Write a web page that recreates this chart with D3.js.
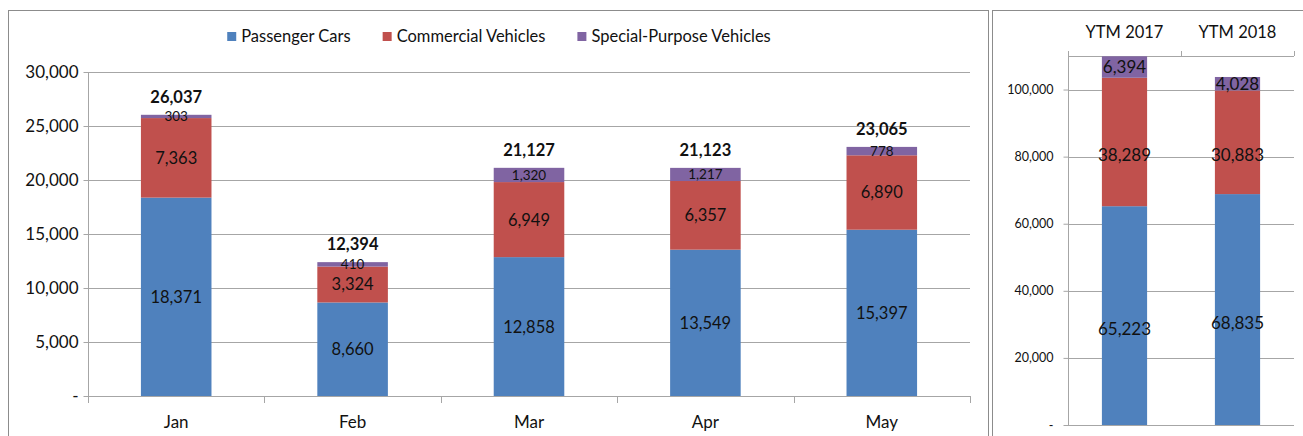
<!DOCTYPE html>
<html>
<head>
<meta charset="utf-8">
<script src="https://cdn.jsdelivr.net/npm/d3@7"></script>
<style>
  body { margin: 0; background: #fff; }
  text { font-family: Lato, "Open Sans", sans-serif; fill: #111; }
</style>
</head>
<body>
<script>
// chart data
var months = ["Jan", "Feb", "Mar", "Apr", "May"];
var passenger = [18371, 8660, 12858, 13549, 15397];
var commercial = [7363, 3324, 6949, 6357, 6890];
var special = [303, 410, 1320, 1217, 778];
var totals = [26037, 12394, 21127, 21123, 23065];

var ytmYears = ["YTM 2017", "YTM 2018"];
var ytmPassenger = [65223, 68835];
var ytmCommercial = [38289, 30883];
var ytmSpecial = [6394, 4028];

var seriesNames = ["Passenger Cars", "Commercial Vehicles", "Special-Purpose Vehicles"];
var colors = ["#4f81bd", "#c0504d", "#8064a2"];

var monthTicks = [0, 5000, 10000, 15000, 20000, 25000, 30000];
var ytmTicks = [0, 20000, 40000, 60000, 80000, 100000];

var W = 1303, H = 436;
var fmt = d3.format(",");
var tickFmt = function(d) { return d === 0 ? "-" : fmt(d); };
var gridColor = "#a6a6a6";

var svg = d3.select("body").append("svg")
    .attr("width", W)
    .attr("height", H);

// panel frames
svg.append("rect").attr("x", 8.5).attr("y", 10.5).attr("width", 980).attr("height", 440)
    .attr("fill", "none").attr("stroke", "#8c8c8c");
svg.append("rect").attr("x", 992.5).attr("y", 10.5).attr("width", 330).attr("height", 440)
    .attr("fill", "none").attr("stroke", "#8c8c8c");

function buildRows(cats, a, b, c) {
  return cats.map(function(k, i) { return {cat: k, s0: a[i], s1: b[i], s2: c[i]}; });
}
var stack = d3.stack().keys(["s0", "s1", "s2"]);

// ---------- monthly panel ----------
var x = d3.scaleBand().domain(months).range([88, 970]).paddingInner(0.6).paddingOuter(0.3);
var y = d3.scaleLinear().domain([0, 30000]).range([396, 72]);

var left = svg.append("g");

left.selectAll(".grid").data(monthTicks).enter().append("line")
    .attr("x1", 88).attr("x2", 970)
    .attr("y1", function(d) { return Math.round(y(d)) + 0.5; })
    .attr("y2", function(d) { return Math.round(y(d)) + 0.5; })
    .attr("stroke", gridColor);

var yAxis = left.append("g").attr("transform", "translate(88.5,0)")
    .call(d3.axisLeft(y).tickValues(monthTicks).tickFormat(tickFmt).tickSize(5).tickSizeOuter(0));
yAxis.select(".domain").attr("stroke", gridColor).attr("d", "M0,72V403");
yAxis.selectAll(".tick line").attr("stroke", gridColor);
yAxis.selectAll(".tick text").attr("x", -10).style("font-size", "17px").style("font-family", "Lato, sans-serif").attr("fill", "#222");

// category boundary ticks
var bounds = months.map(function(m) { return x(m) - x.step() * x.paddingOuter(); });
bounds.push(970);
left.selectAll(".ctick").data(bounds).enter().append("line")
    .attr("x1", function(d) { return Math.round(d) + 0.5; })
    .attr("x2", function(d) { return Math.round(d) + 0.5; })
    .attr("y1", 396).attr("y2", 403).attr("stroke", gridColor);

left.selectAll(".clabel").data(months).enter().append("text")
    .attr("x", function(d) { return x(d) + x.bandwidth() / 2; })
    .attr("y", 428)
    .attr("text-anchor", "middle")
    .style("font-size", "17px")
    .text(function(d) { return d; });

var rows = buildRows(months, passenger, commercial, special);
var layers = stack(rows);

left.selectAll(".layer").data(layers).enter().append("g")
    .attr("fill", function(d, i) { return colors[i]; })
  .selectAll("rect").data(function(d) { return d; }).enter().append("rect")
    .attr("x", function(d) { return x(d.data.cat); })
    .attr("width", x.bandwidth())
    .attr("y", function(d) { return y(d[1]); })
    .attr("height", function(d) { return y(d[0]) - y(d[1]); });

layers.forEach(function(layer, li) {
  left.selectAll(".lab" + li).data(layer).enter().append("text")
      .attr("x", function(d) { return x(d.data.cat) + x.bandwidth() / 2; })
      .attr("y", function(d) { return (y(d[0]) + y(d[1])) / 2; })
      .attr("dy", "0.36em")
      .attr("text-anchor", "middle")
      .style("font-size", li === 2 ? "13.5px" : "16.5px")
      .text(function(d) { return fmt(d[1] - d[0]); });
});

left.selectAll(".total").data(totals).enter().append("text")
    .attr("x", function(d, i) { return x(months[i]) + x.bandwidth() / 2; })
    .attr("y", function(d) { return y(d) - 12; })
    .attr("text-anchor", "middle")
    .style("font-size", "16.5px")
    .style("font-weight", "bold")
    .text(function(d) { return fmt(d); });

// legend
var legend = svg.append("g");
var items = legend.selectAll("g").data(seriesNames).enter().append("g");
items.append("rect").attr("width", 9).attr("height", 9).attr("y", 32)
    .attr("fill", function(d, i) { return colors[i]; });
items.append("text").attr("x", 14).attr("y", 42).style("font-size", "16.5px")
    .text(function(d) { return d; });
var offs = [], cur = 0;
items.each(function() {
  offs.push(cur);
  cur += this.getBBox().width + 32;
});
cur -= 32;
var lx = 499 - cur / 2;
items.attr("transform", function(d, i) { return "translate(" + (lx + offs[i]) + ",0)"; });

// ---------- year-to-month panel ----------
var x2 = d3.scaleBand().domain(ytmYears).range([1068, 1294]).paddingInner(0.6).paddingOuter(0.3);
var y2 = d3.scaleLinear().domain([0, 110000]).range([425, 56]);
var labelShift = 13;

var right = svg.append("g");

right.selectAll(".grid").data(ytmTicks.concat([110000])).enter().append("line")
    .attr("x1", 1068).attr("x2", 1294)
    .attr("y1", function(d) { return Math.round(y2(d)) + 0.5; })
    .attr("y2", function(d) { return Math.round(y2(d)) + 0.5; })
    .attr("stroke", gridColor);

var y2Axis = right.append("g").attr("transform", "translate(1068.5,0)")
    .call(d3.axisLeft(y2).tickValues(ytmTicks).tickFormat(tickFmt).tickSize(5).tickSizeOuter(0));
y2Axis.select(".domain").attr("stroke", gridColor).attr("d", "M0,51V425");
y2Axis.selectAll(".tick line").attr("stroke", gridColor);
y2Axis.selectAll(".tick text").attr("x", -15).style("font-size", "12.5px").style("font-family", "Lato, sans-serif").attr("fill", "#222");

var bounds2 = ytmYears.map(function(m) { return x2(m) - x2.step() * x2.paddingOuter(); });
bounds2.push(1294);
right.selectAll(".ctick").data(bounds2).enter().append("line")
    .attr("x1", function(d) { return Math.round(d) + 0.5; })
    .attr("x2", function(d) { return Math.round(d) + 0.5; })
    .attr("y1", 51).attr("y2", 56).attr("stroke", gridColor);

right.selectAll(".clabel").data(ytmYears).enter().append("text")
    .attr("x", function(d) { return x2(d) + x2.bandwidth() / 2; })
    .attr("y", 38)
    .attr("text-anchor", "middle")
    .style("font-size", "16.5px")
    .text(function(d) { return d; });

var layers2 = stack(buildRows(ytmYears, ytmPassenger, ytmCommercial, ytmSpecial));

right.selectAll(".layer").data(layers2).enter().append("g")
    .attr("fill", function(d, i) { return colors[i]; })
  .selectAll("rect").data(function(d) { return d; }).enter().append("rect")
    .attr("x", function(d) { return x2(d.data.cat); })
    .attr("width", x2.bandwidth())
    .attr("y", function(d) { return y2(d[1]); })
    .attr("height", function(d) { return y2(d[0]) - y2(d[1]); });

layers2.forEach(function(layer, li) {
  right.selectAll(".lab" + li).data(layer).enter().append("text")
      .attr("x", function(d) { return x2(d.data.cat) + x2.bandwidth() / 2; })
      .attr("y", function(d) { return (y2(d[0]) + y2(d[1])) / 2 + (li < 2 ? labelShift : 0); })
      .attr("dy", "0.36em")
      .attr("text-anchor", "middle")
      .style("font-size", "17px")
      .text(function(d) { return fmt(d[1] - d[0]); });
});
</script>
</body>
</html>
